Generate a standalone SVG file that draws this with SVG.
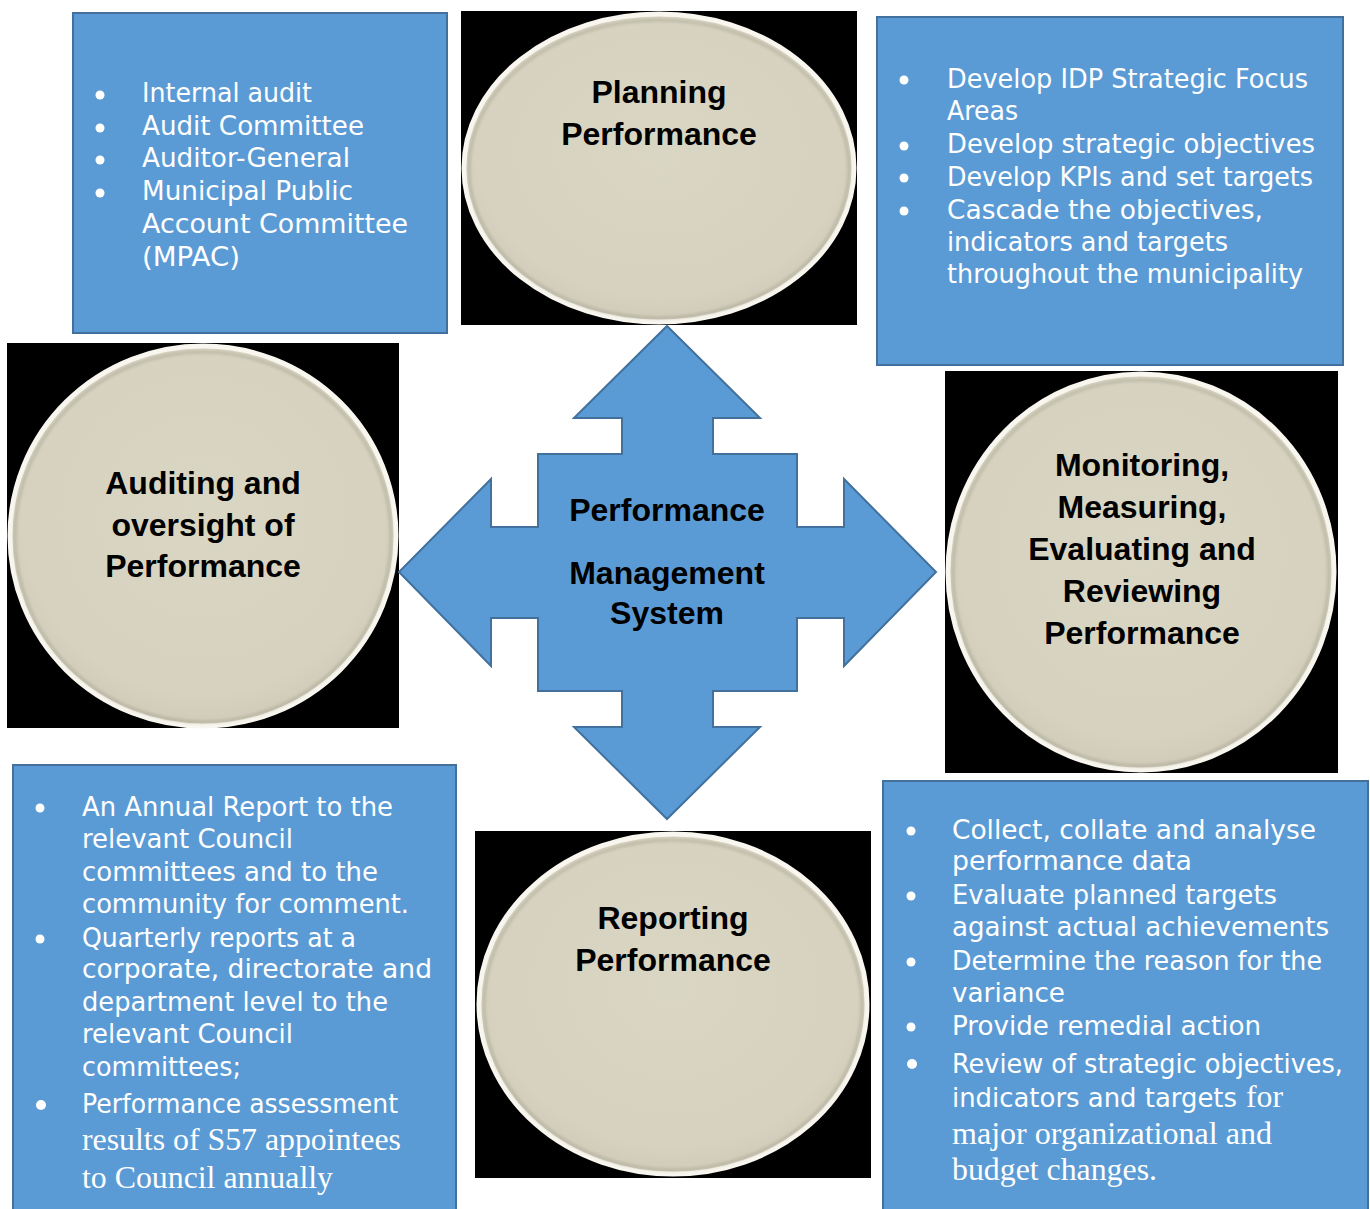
<svg xmlns="http://www.w3.org/2000/svg" width="1370" height="1209" viewBox="0 0 1370 1209">
  <style>
    .bg { fill: #000000; }
    .disc { fill: url(#discFill); stroke: #F8F6EE; stroke-width: 5; }
    .discShade { fill: none; stroke: #8C8979; stroke-width: 2.5; opacity: 0.4; filter: url(#soft); }
    .label { font-family: "Liberation Sans", Arial, sans-serif; font-weight: bold; font-size: 32px; fill: #000000; text-anchor: middle; }
    .box { fill: #5B9BD5; stroke: #41719C; stroke-width: 2; }
    .item { font-family: "DejaVu Sans", "Noto Sans", sans-serif; font-size: 26px; fill: #FFFFFF; }
    .serif { font-family: "Liberation Serif", "Times New Roman", serif; font-size: 31px; fill: #FFFFFF; }
    .dot { fill: #FFFFFF; }
    .cross { fill: #5B9BD5; stroke: #41719C; stroke-width: 2; stroke-linejoin: miter; }
  </style>
  <defs>
    <radialGradient id="discFill" cx="0.5" cy="0.45" r="0.55">
      <stop offset="0" stop-color="#DAD6C4"/>
      <stop offset="0.85" stop-color="#D6D2BF"/>
      <stop offset="1" stop-color="#CFCBB8"/>
    </radialGradient>
    <filter id="soft" x="-10%" y="-10%" width="120%" height="120%">
      <feGaussianBlur stdDeviation="1.5"/>
    </filter>
  </defs>

  <rect width="1370" height="1209" fill="#FFFFFF"/>

  <!-- Planning Performance -->
  <g id="node-planning">
    <rect class="bg" x="461" y="11" width="396" height="314"/>
    <ellipse class="disc" cx="659" cy="168" rx="195" ry="154"/>
    <ellipse class="discShade" cx="659" cy="169" rx="190" ry="149"/>
    <text class="label" x="659" y="103">Planning</text>
    <text class="label" x="659" y="145">Performance</text>
  </g>

  <!-- Auditing and oversight of Performance -->
  <g id="node-auditing">
    <rect class="bg" x="7" y="343" width="392" height="385"/>
    <ellipse class="disc" cx="203" cy="536" rx="193" ry="190"/>
    <ellipse class="discShade" cx="203" cy="537" rx="188" ry="185"/>
    <text class="label" x="203" y="494">Auditing and</text>
    <text class="label" x="203" y="536">oversight of</text>
    <text class="label" x="203" y="577">Performance</text>
  </g>

  <!-- Monitoring, Measuring, Evaluating and Reviewing Performance -->
  <g id="node-monitoring">
    <rect class="bg" x="945" y="371" width="393" height="402"/>
    <ellipse class="disc" cx="1141" cy="572" rx="193" ry="198"/>
    <ellipse class="discShade" cx="1141" cy="573" rx="188" ry="193"/>
    <text class="label" x="1142" y="476">Monitoring,</text>
    <text class="label" x="1142" y="518">Measuring,</text>
    <text class="label" x="1142" y="560">Evaluating and</text>
    <text class="label" x="1142" y="602">Reviewing</text>
    <text class="label" x="1142" y="644">Performance</text>
  </g>

  <!-- Reporting Performance -->
  <g id="node-reporting">
    <rect class="bg" x="475" y="831" width="396" height="347"/>
    <ellipse class="disc" cx="673" cy="1004" rx="194" ry="170"/>
    <ellipse class="discShade" cx="673" cy="1005" rx="189" ry="165"/>
    <text class="label" x="673" y="929">Reporting</text>
    <text class="label" x="673" y="971">Performance</text>
  </g>

  <!-- Oversight bodies -->
  <g id="box-oversight">
    <rect class="box" x="73" y="13" width="374" height="320"/>
    <circle class="dot" cx="100" cy="95" r="4.5"/>
    <circle class="dot" cx="100" cy="128" r="4.5"/>
    <circle class="dot" cx="100" cy="160" r="4.5"/>
    <circle class="dot" cx="100" cy="193" r="4.5"/>
    <text class="item" x="142" y="102" textLength="170" lengthAdjust="spacingAndGlyphs">Internal audit</text>
    <text class="item" x="142" y="135" textLength="222" lengthAdjust="spacingAndGlyphs">Audit Committee</text>
    <text class="item" x="142" y="167" textLength="208" lengthAdjust="spacingAndGlyphs">Auditor-General</text>
    <text class="item" x="142" y="200" textLength="211" lengthAdjust="spacingAndGlyphs">Municipal Public</text>
    <text class="item" x="142" y="233" textLength="266" lengthAdjust="spacingAndGlyphs">Account Committee</text>
    <text class="item" x="142" y="266" textLength="98" lengthAdjust="spacingAndGlyphs">(MPAC)</text>
  </g>

  <!-- Planning activities -->
  <g id="box-planning">
    <rect class="box" x="877" y="17" width="466" height="348"/>
    <circle class="dot" cx="904" cy="80" r="4.5"/>
    <circle class="dot" cx="904" cy="146" r="4.5"/>
    <circle class="dot" cx="904" cy="178" r="4.5"/>
    <circle class="dot" cx="904" cy="211" r="4.5"/>
    <text class="item" x="947" y="88" textLength="361" lengthAdjust="spacingAndGlyphs">Develop IDP Strategic Focus</text>
    <text class="item" x="947" y="120" textLength="71" lengthAdjust="spacingAndGlyphs">Areas</text>
    <text class="item" x="947" y="153" textLength="368" lengthAdjust="spacingAndGlyphs">Develop strategic objectives</text>
    <text class="item" x="947" y="186" textLength="366" lengthAdjust="spacingAndGlyphs">Develop KPIs and set targets</text>
    <text class="item" x="947" y="219" textLength="316" lengthAdjust="spacingAndGlyphs">Cascade the objectives,</text>
    <text class="item" x="947" y="251" textLength="281" lengthAdjust="spacingAndGlyphs">indicators and targets</text>
    <text class="item" x="947" y="283" textLength="356" lengthAdjust="spacingAndGlyphs">throughout the municipality</text>
  </g>

  <!-- Reporting activities -->
  <g id="box-reporting">
    <rect class="box" x="13" y="765" width="443" height="450"/>
    <circle class="dot" cx="40" cy="808" r="4.5"/>
    <circle class="dot" cx="40" cy="939" r="4.5"/>
    <circle class="dot" cx="41" cy="1105" r="5"/>
    <text class="item" x="82" y="816" textLength="311" lengthAdjust="spacingAndGlyphs">An Annual Report to the</text>
    <text class="item" x="82" y="848" textLength="211" lengthAdjust="spacingAndGlyphs">relevant Council</text>
    <text class="item" x="82" y="881" textLength="296" lengthAdjust="spacingAndGlyphs">committees and to the</text>
    <text class="item" x="82" y="913" textLength="327" lengthAdjust="spacingAndGlyphs">community for comment.</text>
    <text class="item" x="82" y="947" textLength="274" lengthAdjust="spacingAndGlyphs">Quarterly reports at a</text>
    <text class="item" x="82" y="978" textLength="350" lengthAdjust="spacingAndGlyphs">corporate, directorate and</text>
    <text class="item" x="82" y="1011" textLength="306" lengthAdjust="spacingAndGlyphs">department level to the</text>
    <text class="item" x="82" y="1043" textLength="211" lengthAdjust="spacingAndGlyphs">relevant Council</text>
    <text class="item" x="82" y="1076" textLength="159" lengthAdjust="spacingAndGlyphs">committees;</text>
    <text class="item" x="82" y="1113" textLength="316" lengthAdjust="spacingAndGlyphs">Performance assessment</text>
    <text class="serif" x="82" y="1150" textLength="319" lengthAdjust="spacingAndGlyphs">results of S57 appointees</text>
    <text class="serif" x="82" y="1188" textLength="251" lengthAdjust="spacingAndGlyphs">to Council annually</text>
  </g>

  <!-- Monitoring activities -->
  <g id="box-monitoring">
    <rect class="box" x="883" y="781" width="485" height="434"/>
    <circle class="dot" cx="911" cy="831" r="4.5"/>
    <circle class="dot" cx="911" cy="896" r="4.5"/>
    <circle class="dot" cx="911" cy="962" r="4.5"/>
    <circle class="dot" cx="911" cy="1027" r="4.5"/>
    <circle class="dot" cx="912" cy="1064" r="5"/>
    <text class="item" x="952" y="839" textLength="364" lengthAdjust="spacingAndGlyphs">Collect, collate and analyse</text>
    <text class="item" x="952" y="870" textLength="240" lengthAdjust="spacingAndGlyphs">performance data</text>
    <text class="item" x="952" y="904" textLength="325" lengthAdjust="spacingAndGlyphs">Evaluate planned targets</text>
    <text class="item" x="952" y="936" textLength="377" lengthAdjust="spacingAndGlyphs">against actual achievements</text>
    <text class="item" x="952" y="970" textLength="370" lengthAdjust="spacingAndGlyphs">Determine the reason for the</text>
    <text class="item" x="952" y="1002" textLength="113" lengthAdjust="spacingAndGlyphs">variance</text>
    <text class="item" x="952" y="1035" textLength="309" lengthAdjust="spacingAndGlyphs">Provide remedial action</text>
    <text class="item" x="952" y="1073" textLength="391" lengthAdjust="spacingAndGlyphs">Review of strategic objectives,</text>
    <text class="item" x="952" y="1107" textLength="285" lengthAdjust="spacingAndGlyphs">indicators and targets</text>
    <text class="serif" x="1246" y="1107" textLength="37" lengthAdjust="spacingAndGlyphs">for</text>
    <text class="serif" x="952" y="1144" textLength="320" lengthAdjust="spacingAndGlyphs">major organizational and</text>
    <text class="serif" x="952" y="1180" textLength="205" lengthAdjust="spacingAndGlyphs">budget changes.</text>
  </g>

  <!-- Four-way arrow linking the system to each stage -->
  <g id="connectors">
    <path class="cross" d="M667,326 L760,418 L713,418 L713,454 L797,454 L797,527 L844,527 L844,479 L936,572 L844,666 L844,618 L797,618 L797,691 L713,691 L713,727 L760,727 L667,819 L574,727 L622,727 L622,691 L538,691 L538,618 L491,618 L491,666 L399,572 L491,479 L491,527 L538,527 L538,454 L622,454 L622,418 L574,418 Z"/>
  </g>
  <g id="node-system">
    <text class="label" x="667" y="521">Performance</text>
    <text class="label" x="667" y="584">Management</text>
    <text class="label" x="667" y="624">System</text>
  </g>
</svg>
